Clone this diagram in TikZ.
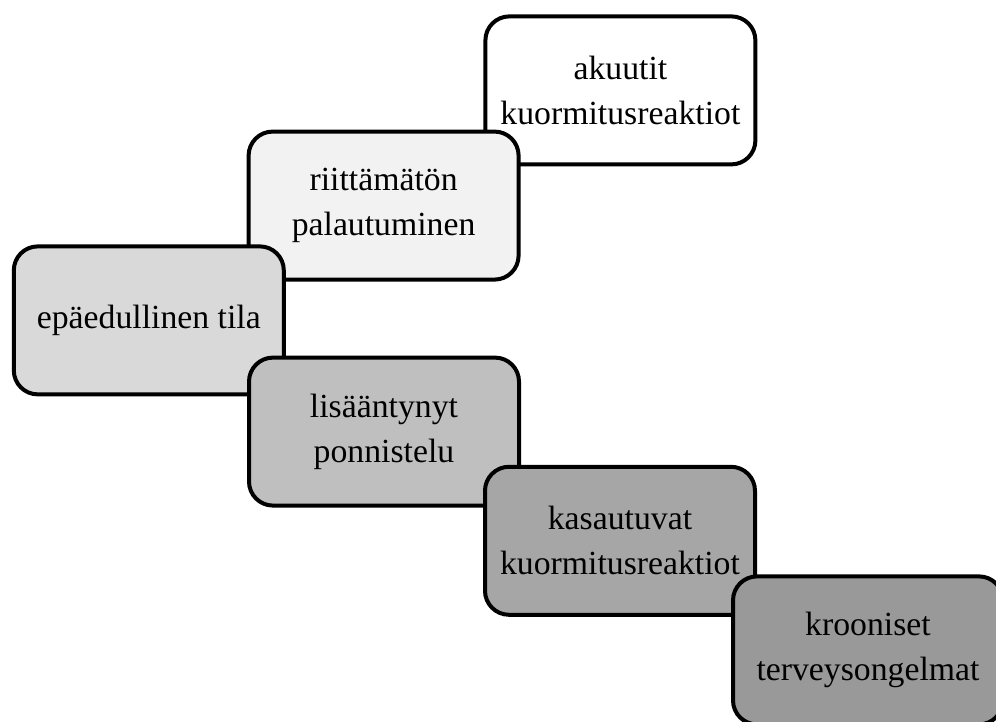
\documentclass[tikz,border=0pt]{standalone}
\usepackage{fontspec}
\setmainfont{Liberation Serif}
\usepackage{xcolor}
\usetikzlibrary{positioning}

\definecolor{gray1}{HTML}{F2F2F2}
\definecolor{gray2}{HTML}{D9D9D9}
\definecolor{gray3}{HTML}{BFBFBF}
\definecolor{gray4}{HTML}{A6A6A6}
\definecolor{gray5}{HTML}{999999}

\begin{document}
\begin{tikzpicture}[
    stage/.style={rectangle, rounded corners=0.6cm, draw=black, line width=0.1cm, minimum width=6.75cm, minimum height=3.7cm, align=center, font=\fontsize{24}{32}\selectfont}
]
\clip (0,0) rectangle (24.9,18.05);

% ============== STAGES (each one drawn over the previous) ==============
\node[stage, fill=white] (akuutit) at (15.51,15.79) {akuutit\\kuormitusreaktiot};

\node[stage, fill=gray1] (palautuminen) at (9.59,12.91) {riittämätön\\palautuminen};

\node[stage, fill=gray2] (tila) at (3.72,10.04) {epäedullinen tila};

\node[stage, fill=gray3] (ponnistelu) at (9.6,7.26) {lisääntynyt\\ponnistelu};

\node[stage, fill=gray4] (kasautuvat) at (15.5,4.53) {kasautuvat\\kuormitusreaktiot};

\node[stage, fill=gray5] (krooniset) at (21.7,1.79) {krooniset\\terveysongelmat};

\end{tikzpicture}
\end{document}
